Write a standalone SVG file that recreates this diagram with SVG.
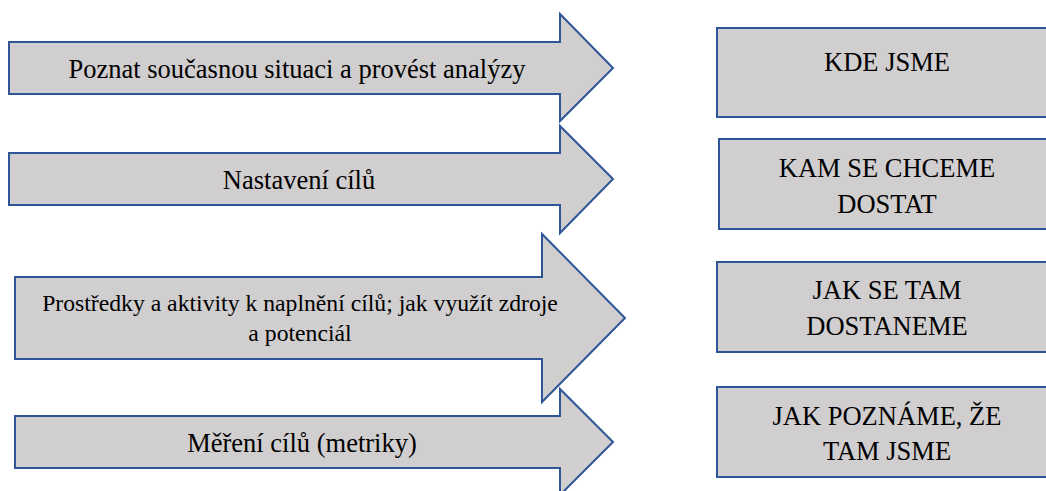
<svg xmlns="http://www.w3.org/2000/svg" width="1046" height="491" viewBox="0 0 1046 491">
  <style>
    .nd { fill: #D0CECE; stroke: #2F5597; stroke-width: 2; }
  </style>
  <rect width="1046" height="491" fill="#FFFFFF"/>
  <g id="arrow1">
    <polygon class="nd" points="9,42 560,42 560,14 613,68 560,121 560,94 9,94"/>
    <text x="297" y="78" font-family="Liberation Serif, serif" font-size="26.5" text-anchor="middle" fill="#000000">Poznat sou&#269;asnou situaci a prov&#233;st anal&#253;zy</text>
  </g>
  <g id="arrow2">
    <polygon class="nd" points="9,153 560,153 560,126 613,179 560,233 560,205 9,205"/>
    <text x="299" y="189" font-family="Liberation Serif, serif" font-size="26.5" text-anchor="middle" fill="#000000">Nastaven&#237; c&#237;l&#367;</text>
  </g>
  <g id="arrow3">
    <polygon class="nd" points="15,277 542,277 542,234 625,318 542,402 542,359 15,359"/>
    <text x="300" y="311" font-family="Liberation Serif, serif" font-size="23.7" text-anchor="middle" fill="#000000">Prost&#345;edky a aktivity k napln&#283;n&#237; c&#237;l&#367;; jak vyu&#382;&#237;t zdroje</text>
    <text x="300" y="341" font-family="Liberation Serif, serif" font-size="23.7" text-anchor="middle" fill="#000000">a potenci&#225;l</text>
  </g>
  <g id="arrow4">
    <polygon class="nd" points="15,416 560,416 560,389 613,442 560,495 560,468 15,468"/>
    <text x="302" y="452" font-family="Liberation Serif, serif" font-size="26.5" text-anchor="middle" fill="#000000">M&#283;&#345;en&#237; c&#237;l&#367; (metriky)</text>
  </g>
  <g id="box1">
    <rect class="nd" x="717" y="28" width="340" height="89"/>
    <text x="887" y="71" font-family="Liberation Serif, serif" font-size="26.5" text-anchor="middle" fill="#000000">KDE JSME</text>
  </g>
  <g id="box2">
    <rect class="nd" x="719" y="139" width="340" height="90"/>
    <text x="887" y="177" font-family="Liberation Serif, serif" font-size="26.5" text-anchor="middle" fill="#000000">KAM SE CHCEME</text>
    <text x="887" y="213" font-family="Liberation Serif, serif" font-size="26.5" text-anchor="middle" fill="#000000">DOSTAT</text>
  </g>
  <g id="box3">
    <rect class="nd" x="717" y="262" width="340" height="90"/>
    <text x="887" y="299" font-family="Liberation Serif, serif" font-size="26.5" text-anchor="middle" fill="#000000">JAK SE TAM</text>
    <text x="887" y="335" font-family="Liberation Serif, serif" font-size="26.5" text-anchor="middle" fill="#000000">DOSTANEME</text>
  </g>
  <g id="box4">
    <rect class="nd" x="717" y="387" width="340" height="90"/>
    <text x="887" y="425" font-family="Liberation Serif, serif" font-size="26.5" text-anchor="middle" fill="#000000">JAK POZN&#193;ME, &#381;E</text>
    <text x="887" y="460" font-family="Liberation Serif, serif" font-size="26.5" text-anchor="middle" fill="#000000">TAM JSME</text>
  </g>
  <g id="connectors"></g>
</svg>
